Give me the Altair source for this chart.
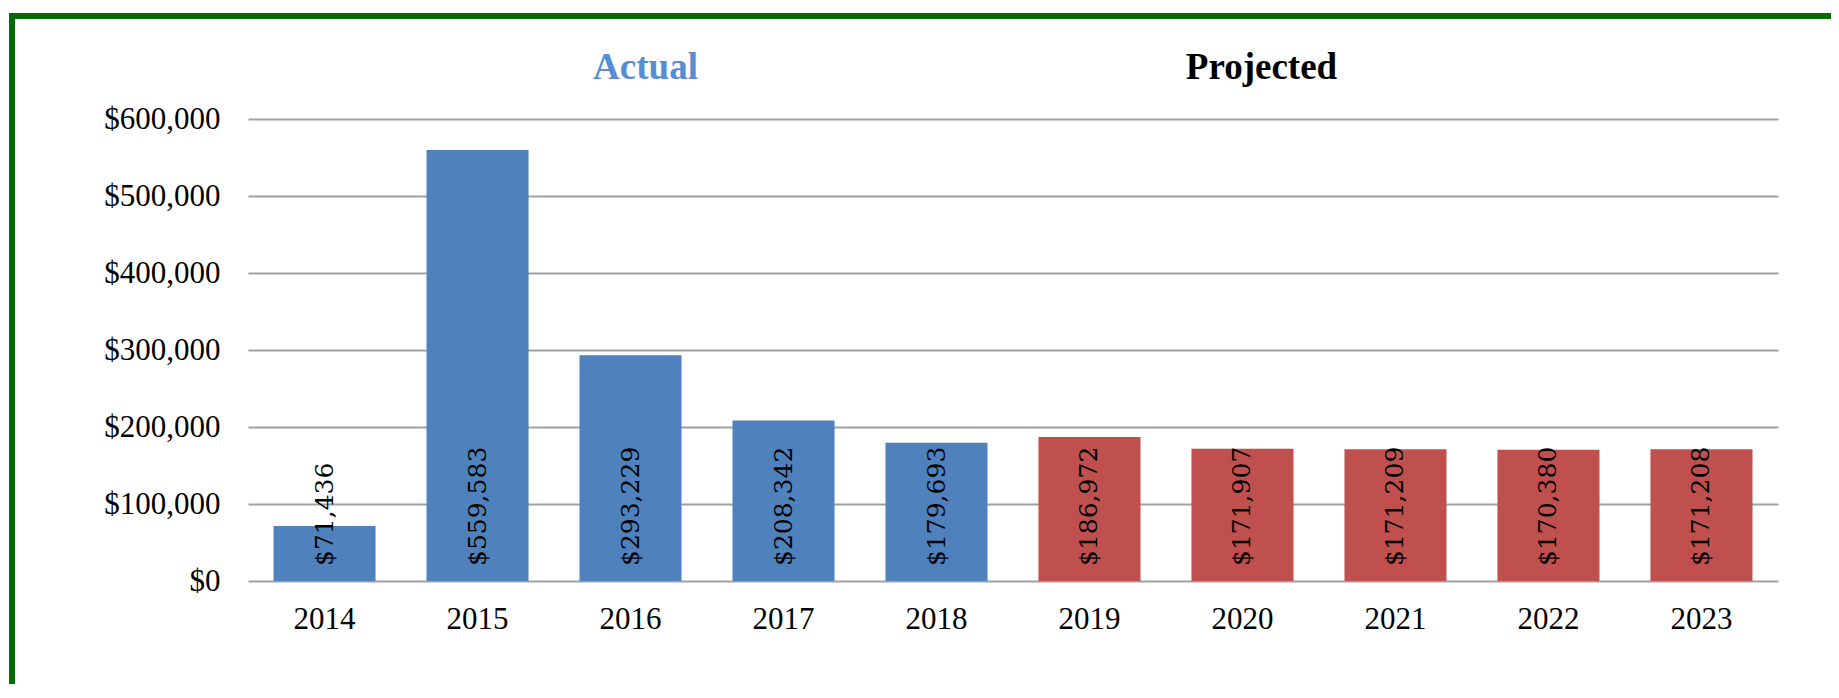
import altair as alt
import pandas as pd

# ---- data ----
years = ["2014", "2015", "2016", "2017", "2018", "2019", "2020", "2021", "2022", "2023"]
values = [71436, 559583, 293229, 208342, 179693, 186972, 171907, 171209, 170380, 171208]
kinds = ["Actual"] * 5 + ["Projected"] * 5
kind_colors = ["#4F81BD", "#C0504D"]
y_ticks = [0, 100000, 200000, 300000, 400000, 500000, 600000]

title_text = ["Actual", "Projected"]
title_year = ["2016", "2020"]
title_color = ["#558ED5", "#000000"]
title_shift = [15, 19]

df = pd.DataFrame({"year": years, "value": values, "kind": kinds, "zero": [0] * len(years)})

W, H = 1530, 462
PAD = {"left": 240, "top": 111, "right": 1823 - 240 - W, "bottom": 676 - 111 - H}

x_enc = alt.X(
    "year:N",
    sort=years,
    scale=alt.Scale(paddingInner=0.333, paddingOuter=0.1667),
    axis=alt.Axis(title=None, labelAngle=0, domain=False, ticks=False,
                  labelFont="Liberation Serif", labelFontSize=31, labelColor="#000000",
                  labelPadding=23, grid=False),
)
y_scale = alt.Scale(domain=[0, 600000], nice=False)

bars = alt.Chart(df).mark_bar().encode(
    x=x_enc,
    y=alt.Y("value:Q", scale=y_scale,
            axis=alt.Axis(title=None, values=y_ticks, format="$,.0f", domain=False, ticks=False,
                          labelFont="Liberation Serif", labelFontSize=31, labelColor="#000000",
                          labelPadding=28, grid=True, gridColor="#A0A0A0", gridWidth=2)),
    color=alt.Color("kind:N", scale=alt.Scale(domain=["Actual", "Projected"], range=kind_colors), legend=None),
)

labels = alt.Chart(df).mark_text(
    angle=270, align="left", baseline="middle", dx=15,
    font="DejaVu Serif", fontSize=25, color="#000000",
).encode(
    x=alt.X("year:N", sort=years),
    y=alt.Y("zero:Q", scale=y_scale),
    text=alt.Text("value:Q", format="$,.0f"),
)

frame = alt.Chart(pd.DataFrame({"frame": [1]})).mark_rect(
    fillOpacity=0, stroke="#046A04", strokeWidth=6
).encode(
    x=alt.value(-236), x2=alt.value(1650), y=alt.value(-103), y2=alt.value(720)
)

layers = [frame, bars, labels]
for t, yr, c, s in zip(title_text, title_year, title_color, title_shift):
    tdf = pd.DataFrame({"year": [yr], "t": [t]})
    layers.append(
        alt.Chart(tdf).mark_text(
            font="Liberation Serif", fontWeight="bold", fontSize=37, color=c,
            align="center", baseline="alphabetic", dx=s,
        ).encode(x=alt.X("year:N", sort=years), y=alt.value(-40), text="t:N")
    )

chart = alt.layer(*layers).properties(
    width=W, height=H, autosize=alt.AutoSizeParams(type="none"), padding=PAD,
    background="#FFFFFF",
).configure_view(stroke=None)

chart.save("out.html", embed_options={"renderer": "svg", "actions": False})
